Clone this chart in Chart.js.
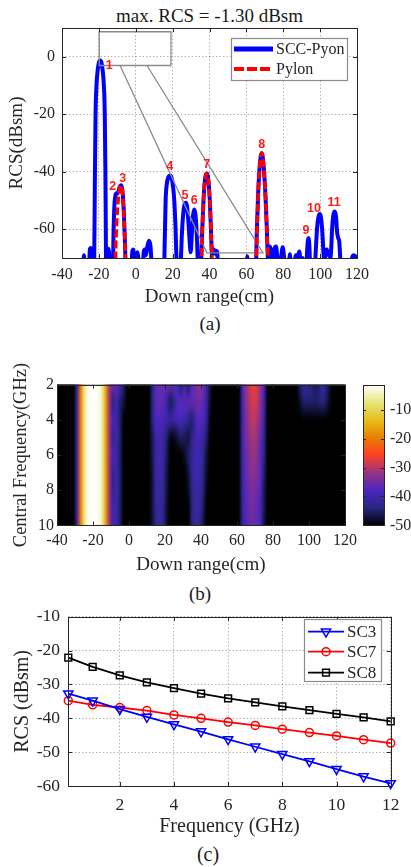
<!DOCTYPE html>
<html>
<head>
<meta charset="utf-8">
<script src="https://cdn.jsdelivr.net/npm/chart.js@4.4.1/dist/chart.umd.min.js"></script>
<style>
  html, body { margin: 0; padding: 0; background: #fff; }
  #page { position: relative; width: 411px; height: 867px; overflow: hidden;
          font-family: "Liberation Serif", "Times New Roman", serif; color: #262626; }
  #page canvas { position: absolute; left: 0; }
  .cap { position: absolute; transform: translate(-50%, -50%); white-space: nowrap; line-height: 1; }
</style>
</head>
<body>
<div id="page">
  <div class="cap" style="left:209.5px;top:15px;font-size:19px;color:#1a1a1a;">max. RCS = -1.30 dBsm</div>
  <canvas id="profile" width="411" height="310" style="top:0px;width:411px;height:310px;"></canvas>
  <div class="cap" style="left:210px;top:323px;font-size:19px;color:#1a1a1a;">(a)</div>
  <canvas id="map" width="411" height="250" style="top:330px;width:411px;height:250px;"></canvas>
  <div class="cap" style="left:200px;top:593px;font-size:19px;color:#1a1a1a;">(b)</div>
  <canvas id="freq" width="411" height="242" style="top:598px;width:411px;height:242px;"></canvas>
  <div class="cap" style="left:208px;top:854px;font-size:20px;color:#1a1a1a;">(c)</div>
</div>
<script>
// ---------- (a) down-range profile ----------
const rangeCm = [
  -40, -28.6, -28.1, -27.6, -25.4, -24.9, -24.4, -23.9, -23.5,
  -22.6, -22.2, -21.8, -21.3, -20.7, -20.0, -19.3, -18.6, -17.9, -17.3, -16.8, -16.4, -16.0,
  -15.6, -15.2, -14.9, -14.5, -14.1,
  -12.5, -12.0, -11.6, -11.1, -10.5, -10.0, -9.4, -8.7, -8.0, -7.4, -6.9, -6.4, -6.0, -5.6, -5.3,
  -2.4, -1.9, -1.4, -0.8, 0.3, 0.9, 1.4, 1.8,
  3.8, 4.3, 4.9, 5.5, 6.3, 7.2, 8.0, 8.6, 9.0,
  15.3, 15.7, 16.2, 16.9, 17.7, 18.6, 19.4, 20.2, 20.9, 21.6, 22.1, 23.3, 24.4,
  25.0, 25.7, 26.4, 27.1, 27.8, 28.5, 29.2, 29.8, 30.4, 31.0, 31.7, 32.4, 33.1, 33.7, 34.1,
  35.2, 35.8, 36.4, 37.0, 37.6, 38.2, 38.6, 39.1, 39.7, 40.3, 40.9, 41.4, 41.8, 42.4, 43.0, 43.6, 44.2, 44.7,
  59.8, 60.5, 61.1,
  65.1, 65.6, 66.3, 67.0, 67.7, 68.3, 68.9, 69.6, 70.4, 71.1, 71.7, 72.2, 72.9, 73.6, 74.3, 75.2, 76.1, 76.8, 77.6,
  78.8, 79.7, 80.5, 81.2, 82.8, 83.6, 84.4, 85.8, 86.8, 87.6, 88.7, 89.6, 90.5, 91.3,
  92.4, 92.9, 93.6, 94.2, 94.7,
  97.0, 97.6, 98.3, 99.0, 99.8, 100.5, 101.2, 101.8, 102.3, 102.9, 103.7, 104.4, 105.0, 105.5,
  105.9, 106.5, 107.2, 107.9, 108.6, 109.2, 109.8, 110.4, 110.9, 111.3,
  116.5, 117.3, 118.3, 119.3, 120
];
const sccPyonDb = [
  -75, -75, -69, -75, -75, -67, -66.5, -71, -75,
  -75, -45, -20, -10, -5, -2, -1.3, -2, -5, -10, -20, -45, -75,
  -75, -68, -66.8, -68, -75,
  -75, -60, -52, -48.5, -47.5, -47.6, -46.8, -45.2, -44.7, -45.8, -49, -55, -62, -70, -75,
  -75, -68, -67, -70.5, -69, -68, -70, -75,
  -75, -68, -67, -69, -66, -64, -66, -72, -75,
  -75, -65, -50, -44, -41.8, -41.3, -42, -45, -50, -60, -70, -73, -71,
  -62, -55, -51.5, -50.8, -52, -57, -64, -68, -62, -55.5, -53.1, -55, -62, -72, -75,
  -75, -65, -55, -47, -42.5, -40.8, -40.6, -41.5, -45, -52, -62, -69, -67.5, -67, -68.5, -67.5, -68, -75,
  -75, -69.5, -75,
  -75, -62, -49, -40, -35, -33.5, -35, -40, -49, -60, -70, -70, -66, -68.5, -72, -67, -66, -70, -75,
  -70, -66.3, -70, -75, -75, -68.7, -75, -75, -69, -70, -67.7, -72, -70, -75,
  -75, -68, -63, -66, -75,
  -75, -68, -60, -56, -54.7, -56, -61, -68, -72, -68, -67, -69, -68, -70,
  -68, -60, -55, -53.8, -55.5, -61, -63, -64.5, -70, -75,
  -75, -70, -69, -69.5, -70
];
const pylonRangeCm = [
  -40, -11.2, -10.8, -10.3, -9.7, -9.1, -8.6, -8.0, -7.4, -6.9, -6.4, -6.0, -5.6, -5.3,
  35.4, 35.9, 36.5, 37.1, 37.7, 38.3, 38.7, 39.2, 39.8, 40.4, 40.9, 41.4, 41.7,
  65.2, 65.7, 66.3, 67.0, 67.7, 68.3, 68.9, 69.6, 70.4, 71.1, 71.7, 72.0, 120
];
const pylonDb = [
  -75, -75, -65, -57, -51, -47.5, -45.5, -44.8, -46, -49.5, -55.5, -62, -70, -75,
  -75, -63, -53, -46, -42, -40.6, -40.8, -42, -46, -53, -62, -72, -75,
  -75, -62, -49, -40, -35, -33.5, -35, -40, -49, -60, -70, -75, -75
];
const profileXTicks = [-40, -20, 0, 20, 40, 60, 80, 100, 120];
const profileYTicks = [-60, -40, -20, 0];

// scattering-centre tags (anchor in cm / dBsm)
const peakTags = ['1', '2', '3', '4', '5', '6', '7', '8', '9', '10', '11'];
const peakTagX = [-14.4, -12.5, -7.1, 18.4, 26.7, 31.7, 38.5, 68.3, 92.3, 96.7, 107.6];
const peakTagY = [-3.1, -45.3, -42.4, -38.3, -48.4, -50.0, -37.5, -30.6, -60.5, -52.7, -50.6];

// zoom-window outline and its leader lines (cm / dBsm)
const insetBoxX = [-19.8, 19.1, 19.1, -19.8, -19.8];
const insetBoxY = [8.7, 8.7, -3.05, -3.05, 8.7];
const leaderX = [-8.5, 38.6, 69.0, 6.1];
const leaderY = [-3.05, -68.2, -68.2, -3.05];

// ---------- (b) range profile vs. central frequency ----------
const mapRangeCm = [
  -39, -37, -35, -33, -31, -29, -27, -25, -23, -21,
  -19, -17, -15, -13, -11, -9, -7, -5, -3, -1,
  1, 3, 5, 7, 9, 11, 13, 15, 17, 19,
  21, 23, 25, 27, 29, 31, 33, 35, 37, 39,
  41, 43, 45, 47, 49, 51, 53, 55, 57, 59,
  61, 63, 65, 67, 69, 71, 73, 75, 77, 79,
  81, 83, 85, 87, 89, 91, 93, 95, 97, 99,
  101, 103, 105, 107, 109, 111, 113, 115, 117, 119
];
const mapFreqGHz = [2, 3, 4, 5, 6, 7, 8, 9, 10];
const rcsAt2GHz = [
  -50, -50, -50, -50, -50, -42, -21, -8, -2.5, -1.6,
  -1.3, -2, -5.5, -16, -31, -35, -36, -39, -45, -50,
  -50, -50, -50, -50, -50, -50, -44, -37, -36, -36,
  -36, -36, -37, -39, -45, -40, -45, -37, -35, -33,
  -35, -40, -47, -50, -50, -50, -50, -50, -50, -50,
  -50, -39, -33, -29, -27, -28, -33, -39, -50, -50,
  -50, -50, -50, -50, -50, -50, -50, -45, -42, -42,
  -43, -46, -45, -42, -43, -47, -50, -50, -50, -50
];
const rcsAt3GHz = [
  -50, -50, -50, -50, -50, -42, -21, -8, -2.5, -1.6,
  -1.3, -2, -5.5, -16, -31, -44, -40, -45, -47, -50,
  -50, -50, -50, -50, -50, -50, -44, -37, -36, -37,
  -41, -46, -43, -38, -37, -37, -37, -36, -36, -35,
  -37, -41, -48, -50, -50, -50, -50, -50, -50, -50,
  -50, -39, -33, -30, -28, -29, -33, -40, -50, -50,
  -50, -50, -50, -50, -50, -50, -50, -48, -45, -45,
  -45, -45, -45, -44, -45, -48, -50, -50, -50, -50
];
const rcsAt4GHz = [
  -50, -50, -50, -50, -50, -42, -21, -8, -2.5, -1.6,
  -1.3, -2, -5.5, -16, -31, -39, -40, -45, -50, -50,
  -50, -50, -50, -50, -50, -50, -44, -38, -38, -39,
  -40, -41, -40, -39, -39, -40, -43, -45, -39, -37,
  -38, -42, -49, -50, -50, -50, -50, -50, -50, -50,
  -50, -40, -34, -31, -29, -31, -34, -41, -50, -50,
  -50, -50, -50, -50, -50, -50, -50, -50, -50, -50,
  -50, -50, -50, -50, -50, -50, -50, -50, -50, -50
];
const rcsAt5GHz = [
  -50, -50, -50, -50, -50, -42, -21, -8, -2.5, -1.6,
  -1.3, -2, -5.5, -16, -31, -43, -40, -45, -50, -50,
  -50, -50, -50, -50, -50, -50, -46, -40, -40, -41,
  -45, -49, -49, -47, -45, -46, -47, -43, -40, -39,
  -41, -45, -50, -50, -50, -50, -50, -50, -50, -50,
  -50, -40, -35, -32, -31, -32, -36, -43, -50, -50,
  -50, -50, -50, -50, -50, -50, -50, -50, -50, -50,
  -50, -50, -50, -50, -50, -50, -50, -50, -50, -50
];
const rcsAt6GHz = [
  -50, -50, -50, -50, -50, -42, -21, -8, -2.5, -1.6,
  -1.3, -2, -5.5, -16, -31, -39, -40, -45, -50, -50,
  -50, -50, -50, -50, -50, -50, -46, -41, -40, -41,
  -46, -50, -50, -50, -50, -48, -45, -42, -40, -40,
  -42, -47, -50, -50, -50, -50, -50, -50, -50, -50,
  -50, -40, -36, -33, -32, -33, -37, -44, -50, -50,
  -50, -50, -50, -50, -50, -50, -50, -50, -50, -50,
  -50, -50, -50, -50, -50, -50, -50, -50, -50, -50
];
const rcsAt7GHz = [
  -50, -50, -50, -50, -50, -42, -21, -8, -2.5, -1.6,
  -1.3, -2, -5.5, -16, -31, -43, -40, -45, -50, -50,
  -50, -50, -50, -50, -50, -50, -47, -41, -40, -42,
  -47, -50, -50, -50, -50, -50, -47, -42, -40, -40,
  -43, -48, -50, -50, -50, -50, -50, -50, -50, -50,
  -50, -41, -36, -34, -33, -34, -37, -45, -50, -50,
  -50, -50, -50, -50, -50, -50, -50, -50, -50, -50,
  -50, -50, -50, -50, -50, -50, -50, -50, -50, -50
];
const rcsAt8GHz = [
  -50, -50, -50, -50, -50, -42, -21, -8, -2.5, -1.6,
  -1.3, -2, -5.5, -16, -31, -43, -40, -45, -50, -50,
  -50, -50, -50, -50, -50, -50, -47, -41, -41, -42,
  -47, -50, -50, -50, -50, -50, -48, -43, -41, -41,
  -44, -49, -50, -50, -50, -50, -50, -50, -50, -50,
  -50, -41, -37, -35, -34, -35, -38, -46, -50, -50,
  -50, -50, -50, -50, -50, -50, -50, -50, -50, -50,
  -50, -50, -50, -50, -50, -50, -50, -50, -50, -50
];
const rcsAt9GHz = [
  -50, -50, -50, -50, -50, -42, -21, -8, -2.5, -1.6,
  -1.3, -2, -5.5, -16, -31, -40, -40, -45, -50, -50,
  -50, -50, -50, -50, -50, -50, -47, -42, -41, -43,
  -48, -50, -50, -50, -50, -50, -50, -44, -41, -41,
  -45, -50, -50, -50, -50, -50, -50, -50, -50, -50,
  -50, -42, -37, -35, -35, -36, -39, -46, -50, -50,
  -50, -50, -50, -50, -50, -50, -50, -50, -50, -50,
  -50, -50, -50, -50, -50, -50, -50, -50, -50, -50
];
const rcsAt10GHz = [
  -50, -50, -50, -50, -50, -42, -21, -8, -2.5, -1.6,
  -1.3, -2, -5.5, -16, -31, -40, -40, -45, -50, -50,
  -50, -50, -50, -50, -50, -50, -47, -42, -41, -43,
  -48, -50, -50, -50, -50, -50, -50, -44, -41, -42,
  -46, -50, -50, -50, -50, -50, -50, -50, -50, -50,
  -50, -42, -38, -36, -35, -36, -39, -47, -50, -50,
  -50, -50, -50, -50, -50, -50, -50, -50, -50, -50,
  -50, -50, -50, -50, -50, -50, -50, -50, -50, -50
];
const mapRows = [rcsAt2GHz, rcsAt3GHz, rcsAt4GHz, rcsAt5GHz, rcsAt6GHz, rcsAt7GHz, rcsAt8GHz, rcsAt9GHz, rcsAt10GHz];
const mapXTicks = [-40, -20, 0, 20, 40, 60, 80, 100, 120];
const mapYTicks = [2, 4, 6, 8, 10];
const colorbarTicks = [-50, -40, -30, -20, -10];
const colorMinDb = -50;
const colorMaxDb = -1.3;

// ---------- (c) RCS of single scattering centres vs. frequency ----------
const freqGHz = [0.1, 1, 2, 3, 4, 5, 6, 7, 8, 9, 10, 11, 12];
const sc3Db = [-32.7, -34.8, -37.3, -39.6, -41.8, -43.9, -46.2, -48.4, -50.6, -52.7, -55.0, -57.2, -59.2];
const sc7Db = [-34.8, -36.0, -36.8, -37.7, -39.0, -40.0, -41.1, -42.1, -43.2, -44.2, -45.2, -46.3, -47.3];
const sc8Db = [-22.05, -24.8, -27.3, -29.4, -31.1, -32.7, -34.1, -35.3, -36.5, -37.6, -38.7, -39.7, -40.9];
const freqXTicks = [2, 4, 6, 8, 10, 12];
const freqYTicks = [-60, -50, -40, -30, -20, -10];

// ---------- shared styling ----------
const SERIF = '"Liberation Serif", "Times New Roman", serif';
const SANS = '"Liberation Sans", Arial, sans-serif';
const TXT = '#262626';
const GRID = 'rgba(60,60,60,0.38)';

const zip = (xs, ys) => xs.map((x, i) => ({ x, y: ys[i] }));
const fixedTicks = arr => scale => { scale.ticks = arr.map(v => ({ value: v })); };

// box round the plot area with inward tick marks on all four sides
const framePlugin = {
  id: 'frame',
  afterDatasetsDraw(chart, args, opts) {
    const { ctx, chartArea: a } = chart;
    const xs = chart.scales[opts.xId || 'x'];
    const ys = chart.scales[opts.yId || 'y'];
    const len = opts.tick || 4;
    ctx.save();
    ctx.setLineDash([]);
    ctx.strokeStyle = opts.color || TXT;
    ctx.lineWidth = 1;
    ctx.beginPath();
    xs.ticks.forEach(t => {
      const p = Math.round(xs.getPixelForValue(t.value)) + 0.5;
      ctx.moveTo(p, a.bottom); ctx.lineTo(p, a.bottom - len);
      ctx.moveTo(p, a.top); ctx.lineTo(p, a.top + len);
    });
    ys.ticks.forEach(t => {
      const p = Math.round(ys.getPixelForValue(t.value)) + 0.5;
      ctx.moveTo(a.left, p); ctx.lineTo(a.left + len, p);
      ctx.moveTo(a.right, p); ctx.lineTo(a.right - len, p);
    });
    ctx.stroke();
    ctx.strokeRect(Math.round(a.left) + 0.5, Math.round(a.top) + 0.5,
                   Math.round(a.right) - Math.round(a.left), Math.round(a.bottom) - Math.round(a.top));
    ctx.restore();
  }
};

// legend box placed inside the axes
const boxLegendPlugin = {
  id: 'boxLegend',
  afterDraw(chart, args, opts) {
    const { ctx } = chart;
    const [x1, y1, x2, y2] = opts.box;
    ctx.save();
    ctx.fillStyle = '#fff';
    ctx.fillRect(x1, y1, x2 - x1, y2 - y1);
    ctx.strokeStyle = opts.edge || '#8c8c8c';
    ctx.lineWidth = 1.2;
    ctx.strokeRect(x1 + 0.5, y1 + 0.5, x2 - x1, y2 - y1);
    opts.items.forEach(it => {
      ctx.save();
      ctx.strokeStyle = it.color;
      ctx.lineWidth = it.width;
      ctx.setLineDash(it.dash || []);
      ctx.beginPath();
      ctx.moveTo(it.x0, it.y); ctx.lineTo(it.x1, it.y);
      ctx.stroke();
      ctx.setLineDash([]);
      if (it.pointStyle) {
        ctx.fillStyle = 'rgba(0,0,0,0)';
        ctx.lineWidth = 1.5;
        Chart.helpers.drawPoint(ctx, { pointStyle: it.pointStyle, radius: it.radius, rotation: it.rotation || 0, borderWidth: 1.5 },
          (it.x0 + it.x1) / 2, it.y);
      }
      ctx.restore();
      ctx.fillStyle = TXT;
      ctx.font = opts.font;
      ctx.textBaseline = 'middle';
      ctx.textAlign = 'left';
      ctx.fillText(it.text, it.tx, it.y + 1);
    });
    ctx.restore();
  }
};

// numbered scattering-centre tags
const tagPlugin = {
  id: 'peakTags',
  afterDatasetsDraw(chart) {
    const { ctx, scales: { x, y } } = chart;
    ctx.save();
    ctx.fillStyle = '#ff1a1a';
    ctx.font = 'bold 12.5px ' + SANS;
    ctx.textAlign = 'center';
    ctx.textBaseline = 'middle';
    peakTags.forEach((t, i) => ctx.fillText(t, x.getPixelForValue(peakTagX[i]), y.getPixelForValue(peakTagY[i])));
    ctx.restore();
  }
};

// CMRmap-style colour table
const cmrStops = [[0, 0, 0], [0.15, 0.15, 0.5], [0.3, 0.15, 0.75], [0.6, 0.2, 0.5], [1, 0.25, 0.15],
                  [0.9, 0.5, 0], [0.9, 0.75, 0.1], [0.9, 0.9, 0.5], [1, 1, 1]];
function cmr(v) {
  let t = (v - colorMinDb) / (colorMaxDb - colorMinDb);
  t = Math.max(0, Math.min(1, t));
  const p = t * (cmrStops.length - 1);
  const i = Math.min(cmrStops.length - 2, Math.floor(p));
  const f = p - i;
  return cmrStops[i].map((c, k) => Math.round(255 * (c + (cmrStops[i + 1][k] - c) * f)));
}

// image of the range/frequency map, placed through the chart scales
const heatPlugin = {
  id: 'heat',
  beforeDatasetsDraw(chart) {
    const { ctx, chartArea: a, scales: { x, y } } = chart;
    const W = mapRangeCm.length, H = mapFreqGHz.length;
    const off = document.createElement('canvas');
    off.width = W; off.height = H;
    const octx = off.getContext('2d');
    const img = octx.createImageData(W, H);
    for (let j = 0; j < H; j++) {
      for (let i = 0; i < W; i++) {
        const [r, g, b] = cmr(mapRows[j][i]);
        const k = (j * W + i) * 4;
        img.data[k] = r; img.data[k + 1] = g; img.data[k + 2] = b; img.data[k + 3] = 255;
      }
    }
    octx.putImageData(img, 0, 0);
    const dx = (mapRangeCm[1] - mapRangeCm[0]) / 2;
    const dy = (mapFreqGHz[1] - mapFreqGHz[0]) / 2;
    const x0 = x.getPixelForValue(mapRangeCm[0] - dx), x1 = x.getPixelForValue(mapRangeCm[W - 1] + dx);
    const y0 = y.getPixelForValue(mapFreqGHz[0] - dy), y1 = y.getPixelForValue(mapFreqGHz[H - 1] + dy);
    ctx.save();
    ctx.fillStyle = '#000';
    ctx.fillRect(a.left, a.top, a.width, a.height);
    ctx.beginPath(); ctx.rect(a.left, a.top, a.width, a.height); ctx.clip();
    ctx.imageSmoothingEnabled = true;
    ctx.imageSmoothingQuality = 'high';
    ctx.drawImage(off, x0, y0, x1 - x0, y1 - y0);
    ctx.restore();
  }
};

// colour bar drawn against the 'cb' scale
const colorbarPlugin = {
  id: 'colorbar',
  afterDraw(chart, args, opts) {
    const { ctx } = chart;
    const cb = chart.scales.cb;
    const xl = opts.left, xr = opts.right;
    ctx.save();
    const top = cb.getPixelForValue(colorMaxDb), bot = cb.getPixelForValue(colorMinDb);
    for (let py = Math.floor(top); py < Math.ceil(bot); py++) {
      const v = cb.getValueForPixel(py + 0.5);
      const [r, g, b] = cmr(v);
      ctx.fillStyle = `rgb(${r},${g},${b})`;
      ctx.fillRect(xl, py, xr - xl, 1);
    }
    ctx.strokeStyle = TXT;
    ctx.lineWidth = 1;
    ctx.strokeRect(xl + 0.5, Math.round(top) + 0.5, xr - xl, Math.round(bot) - Math.round(top));
    ctx.beginPath();
    cb.ticks.forEach(t => {
      const p = Math.round(cb.getPixelForValue(t.value)) + 0.5;
      ctx.moveTo(xr, p); ctx.lineTo(xr - 3, p);
      ctx.moveTo(xl, p); ctx.lineTo(xl + 3, p);
    });
    ctx.stroke();
    ctx.restore();
  }
};

const tickFont = size => ({ family: SERIF, size });
const common = { responsive: false, animation: false, devicePixelRatio: 1, events: [] };

// ---------- chart (a) ----------
new Chart(document.getElementById('profile'), {
  type: 'line',
  data: {
    datasets: [
      { label: 'Pylon', data: zip(pylonRangeCm, pylonDb), borderColor: '#ff0000', borderWidth: 3.5,
        borderDash: [8, 3], borderCapStyle: 'butt', pointRadius: 0, cubicInterpolationMode: 'monotone', order: 1 },
      { label: 'window', data: zip(insetBoxX, insetBoxY), borderColor: '#8a8a8a', borderWidth: 1.3,
        pointRadius: 0, tension: 0, order: 2 },
      { label: 'leader', data: zip(leaderX, leaderY), borderColor: '#8a8a8a', borderWidth: 1.3,
        pointRadius: 0, tension: 0, order: 2 },
      { label: 'SCC-Pyon', data: zip(rangeCm, sccPyonDb), borderColor: '#0000ff', borderWidth: 4,
        borderJoinStyle: 'round', pointRadius: 0, cubicInterpolationMode: 'monotone', order: 3 }
    ]
  },
  options: {
    ...common,
    layout: { padding: { left: 0, right: 54, top: 28, bottom: 0 } },
    plugins: {
      legend: { display: false }, tooltip: { enabled: false },
      frame: { tick: 4 },
      boxLegend: {
        box: [231, 38, 347, 80], font: '16px ' + SERIF,
        items: [
          { text: 'SCC-Pyon', color: '#0000ff', width: 5, x0: 234, x1: 273, y: 49, tx: 276 },
          { text: 'Pylon', color: '#ff0000', width: 4, dash: [10, 3], x0: 234, x1: 273, y: 69, tx: 276 }
        ]
      }
    },
    scales: {
      x: {
        type: 'linear', min: -40, max: 120,
        afterBuildTicks: fixedTicks(profileXTicks),
        afterFit: s => { s.height = 52; },
        grid: { color: GRID, lineWidth: 1, drawTicks: false },
        border: { display: false, dash: [1.5, 2] },
        ticks: { padding: 7, font: tickFont(16), color: TXT, maxRotation: 0, callback: v => String(v) },
        title: { display: true, text: 'Down range(cm)', font: tickFont(19), color: TXT, padding: { top: 0, bottom: 2 } }
      },
      y: {
        type: 'linear', min: -70, max: 10,
        afterBuildTicks: fixedTicks(profileYTicks),
        afterFit: s => { s.width = 62; },
        grid: { color: GRID, lineWidth: 1, drawTicks: false },
        border: { display: false, dash: [1.5, 2] },
        ticks: { padding: 7, font: tickFont(16), color: TXT, callback: v => String(v) },
        title: { display: true, text: 'RCS(dBsm)', font: tickFont(19), color: TXT, padding: { top: 6, bottom: 0 } }
      }
    }
  },
  plugins: [framePlugin, tagPlugin, boxLegendPlugin]
});

// ---------- chart (b) ----------
new Chart(document.getElementById('map'), {
  type: 'scatter',
  data: { datasets: [{ data: [], pointRadius: 0 }] },
  options: {
    ...common,
    layout: { padding: { left: 0, right: 0, top: 12, bottom: 0 } },
    plugins: {
      legend: { display: false }, tooltip: { enabled: false },
      frame: { tick: 4 },
      colorbar: { left: 363, right: 384 }
    },
    scales: {
      x: {
        type: 'linear', min: -40, max: 120,
        afterBuildTicks: fixedTicks(mapXTicks),
        afterFit: s => { s.height = 52; },
        grid: { display: false, drawTicks: false },
        border: { display: false },
        ticks: { padding: 6, font: tickFont(16), color: TXT, maxRotation: 0, callback: v => String(v) },
        title: { display: true, text: 'Down range(cm)', font: tickFont(19), color: TXT, padding: { top: 0, bottom: 0.6 } }
      },
      y: {
        type: 'linear', min: 2, max: 10, reverse: true, position: 'left',
        afterBuildTicks: fixedTicks(mapYTicks),
        afterFit: s => { s.width = 57; },
        grid: { display: false, drawTicks: false },
        border: { display: false },
        ticks: { padding: 3, font: tickFont(16), color: TXT, callback: v => String(v) },
        title: { display: true, text: 'Central Frequency(GHz)', font: tickFont(18.5), color: TXT, padding: { top: 10, bottom: 0 } }
      },
      cb: {
        type: 'linear', min: colorMinDb, max: colorMaxDb, position: 'right',
        afterBuildTicks: fixedTicks(colorbarTicks),
        afterFit: s => { s.width = 66; },
        grid: { display: false, drawTicks: false },
        border: { display: false },
        ticks: { padding: 45, font: tickFont(16), color: TXT, callback: v => String(v) }
      }
    }
  },
  plugins: [heatPlugin, framePlugin, colorbarPlugin]
});

// ---------- chart (c) ----------
new Chart(document.getElementById('freq'), {
  type: 'line',
  data: {
    datasets: [
      { label: 'SC3', data: zip(freqGHz, sc3Db), borderColor: '#0000ff', borderWidth: 1.8, tension: 0,
        pointStyle: 'triangle', rotation: 180, pointRadius: 5.3, pointBorderWidth: 1.5,
        pointBorderColor: '#0000ff', pointBackgroundColor: 'rgba(0,0,0,0)' },
      { label: 'SC7', data: zip(freqGHz, sc7Db), borderColor: '#ff0000', borderWidth: 1.8, tension: 0,
        pointStyle: 'circle', pointRadius: 4, pointBorderWidth: 1.5,
        pointBorderColor: '#ff0000', pointBackgroundColor: 'rgba(0,0,0,0)' },
      { label: 'SC8', data: zip(freqGHz, sc8Db), borderColor: '#000000', borderWidth: 1.8, tension: 0,
        pointStyle: 'rect', pointRadius: 4.8, pointBorderWidth: 1.5,
        pointBorderColor: '#000000', pointBackgroundColor: 'rgba(0,0,0,0)' }
    ]
  },
  options: {
    ...common,
    clip: false,
    layout: { padding: { left: 0, right: 20.3, top: 13.7, bottom: 0 } },
    plugins: {
      legend: { display: false }, tooltip: { enabled: false },
      frame: { tick: 4 },
      boxLegend: {
        box: [304, 21, 381, 83], font: '17px ' + SERIF,
        items: [
          { text: 'SC3', color: '#0000ff', width: 1.8, x0: 308, x1: 344, y: 33.7, tx: 347,
            pointStyle: 'triangle', rotation: 180, radius: 5.3 },
          { text: 'SC7', color: '#ff0000', width: 1.8, x0: 308, x1: 344, y: 53.7, tx: 347,
            pointStyle: 'circle', radius: 4 },
          { text: 'SC8', color: '#000000', width: 1.8, x0: 308, x1: 344, y: 74.7, tx: 347,
            pointStyle: 'rect', radius: 4.8 }
        ]
      }
    },
    scales: {
      x: {
        type: 'linear', min: 0.1, max: 12,
        afterBuildTicks: fixedTicks(freqXTicks),
        afterFit: s => { s.height = 54; },
        grid: { color: GRID, lineWidth: 1, drawTicks: false },
        border: { display: false, dash: [1.5, 2] },
        ticks: { padding: 8.5, font: tickFont(17.5), color: TXT, maxRotation: 0, callback: v => String(v) },
        title: { display: true, text: 'Frequency (GHz)', font: tickFont(20), color: TXT, padding: { top: 0, bottom: 1.3 } }
      },
      y: {
        type: 'linear', min: -60, max: -10,
        afterBuildTicks: fixedTicks(freqYTicks),
        afterFit: s => { s.width = 68.3; },
        grid: { color: GRID, lineWidth: 1, drawTicks: false },
        border: { display: false, dash: [1.5, 2] },
        ticks: { padding: 8.3, font: tickFont(17.5), color: TXT, callback: v => String(v) },
        title: { display: true, text: 'RCS (dBsm)', font: tickFont(20), color: TXT, padding: { top: 11, bottom: 0 } }
      }
    }
  },
  plugins: [framePlugin, boxLegendPlugin]
});
</script>
</body>
</html>
